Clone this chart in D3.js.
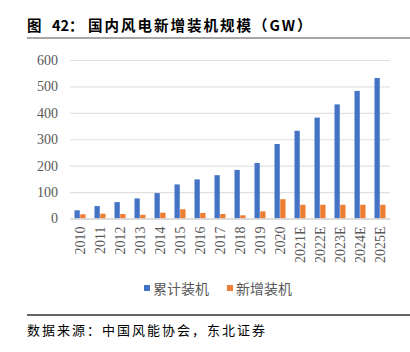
<!DOCTYPE html>
<html><head><meta charset="utf-8">
<script src="https://cdn.jsdelivr.net/npm/d3@7"></script>
<style>body{margin:0;background:#fff}svg{display:block}</style>
</head><body>
<script>
const categories = ["2010","2011","2012","2013","2014","2015","2016","2017","2018","2019","2020","2021E","2022E","2023E","2024E","2025E"];
const cumulative = [31,47,62,76,96,129,148,164,184,210,282,332,382,432,483,532];
const added = [16,18,17,14,22,35,21,17,12,27,73,52,52,52,52,52];
const seriesNames = ["累计装机","新增装机"];
const yTicks = [0,100,200,300,400,500,600];
const colors = ["#4472C4","#ED7D31"];

const W=410,H=352;
const svg=d3.select("body").append("svg").attr("width",W).attr("height",H);
const cjk='"Noto Sans CJK SC", sans-serif';
const serif='"Liberation Serif", "DejaVu Serif", serif';

const title=svg.append("text").attr("y",30.5).attr("font-family",cjk).attr("font-weight","bold")
  .attr("font-size",14.5).attr("fill","#000");
title.append("tspan").attr("x",27).text("图");
title.append("tspan").attr("x",52).text("42：");
title.append("tspan").attr("x",88).attr("letter-spacing",2).text("国内风电新增装机规模（GW）");
svg.append("line").attr("x1",27).attr("x2",410).attr("y1",38).attr("y2",38).attr("stroke","#a6a6a6").attr("stroke-width",2);

const x=d3.scaleBand().domain(categories).range([70,390]).paddingInner(0.45).paddingOuter(0.225);
const xs=d3.scaleBand().domain([0,1]).range([0,x.bandwidth()]).paddingInner(0.08);
const y=d3.scaleLinear().domain([0,600]).range([218.5,60]);

const gy=svg.append("g").attr("transform","translate(70,0)")
  .call(d3.axisLeft(y).tickValues(yTicks).tickSize(-320).tickPadding(12));
gy.select(".domain").remove();
gy.selectAll(".tick line").attr("stroke","#e0e0e0").attr("stroke-width",1.2);
gy.selectAll(".tick text").attr("font-family",serif).attr("font-size",14).attr("fill","#595959");

const data=[cumulative,added];
data.forEach((arr,si)=>{
  svg.append("g").selectAll("rect").data(arr).join("rect")
    .attr("x",(d,i)=>x(categories[i])+xs(si))
    .attr("width",xs.bandwidth())
    .attr("y",d=>y(d)).attr("height",d=>y(0)-y(d))
    .attr("fill",colors[si]);
});

const gx=svg.append("g").attr("transform","translate(0,218.5)")
  .call(d3.axisBottom(x).tickSize(0).tickPadding(0));
gx.select(".domain").attr("stroke","#d9d9d9").attr("stroke-width",1.3);
gx.selectAll(".tick text").attr("font-family",serif).attr("font-size",14).attr("fill","#595959")
  .attr("transform","rotate(-90)").attr("text-anchor","end").attr("dx","-8").attr("dy","0.35em").attr("y",0);

const leg=svg.append("g");
const legX=[144,227];
seriesNames.forEach((n,i)=>{
  leg.append("rect").attr("x",legX[i]).attr("y",285).attr("width",6).attr("height",6).attr("fill",colors[i]);
  leg.append("text").attr("x",legX[i]+9).attr("y",293.5).attr("font-family",cjk).attr("font-size",14)
    .attr("fill","#595959").text(n);
});

svg.append("line").attr("x1",27).attr("x2",410).attr("y1",315).attr("y2",315).attr("stroke","#333").attr("stroke-width",1.3);
svg.append("text").attr("x",27).attr("y",335).attr("font-family",cjk).attr("font-size",13)
  .attr("letter-spacing",2).attr("fill","#000").text("数据来源：中国风能协会，东北证券");
</script>
</body></html>
